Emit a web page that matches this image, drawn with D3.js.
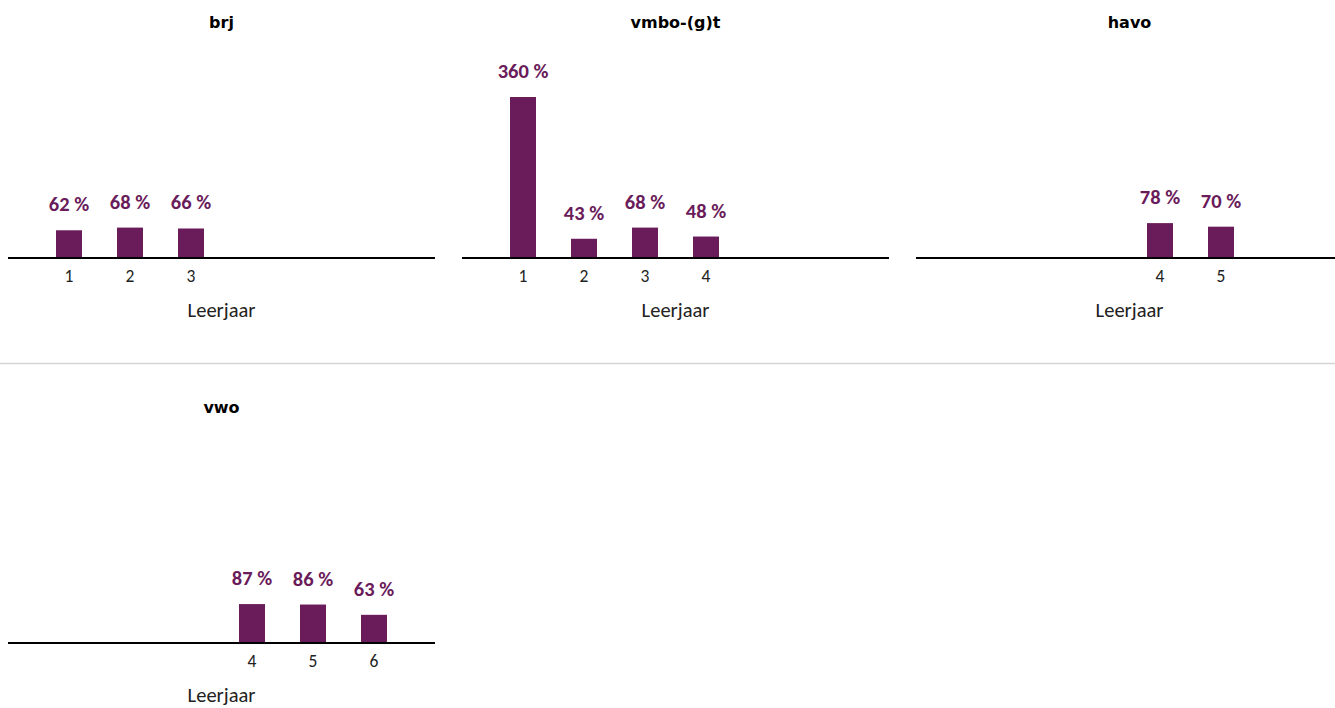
<!DOCTYPE html>
<html>
<head>
<meta charset="utf-8">
<script src="https://cdn.jsdelivr.net/npm/d3@7"></script>
<style>
  html, body { margin: 0; padding: 0; background: #fff; }
  svg text { font-family: Carlito, Lato, "Open Sans", sans-serif; }
  .title { font-family: "DejaVu Sans", sans-serif !important; font-weight: bold; font-size: 16px; fill: #000; }
  .val { font-weight: bold; font-size: 20.5px; fill: #6a1b5a; }
  .tick { font-size: 17.5px; fill: #222; }
  .xlabel { font-size: 20.5px; fill: #222; }
</style>
</head>
<body>
<svg id="chart" width="1335" height="708"></svg>
<script>
// Small multiples per schooltype, percentages per leerjaar.
const PANELS = ["brj", "vmbo-(g)t", "havo", "vwo"];
const YEARS = [[1, 2, 3], [1, 2, 3, 4], [4, 5], [4, 5, 6]];
const VALUES = [[62, 68, 66], [360, 43, 68, 48], [78, 70], [87, 86, 63]];
const DOMAIN = [1, 2, 3, 4, 5, 6];

const svg = d3.select("#chart");
const W = 427, colX = [8, 462, 916], rowBase = [258, 643], barW = 26;

const x = d3.scalePoint().domain(DOMAIN).range([0, W]).padding(1);
const y = d3.scaleLinear().domain([0, 360]).range([0, -161]);

// separator between rows
svg.append("line").attr("x1", 0).attr("x2", 1335).attr("y1", 363.5).attr("y2", 363.5)
  .attr("stroke", "#d4d4d4").attr("stroke-width", 1.5);

PANELS.forEach((name, i) => {
  const col = i % 3, row = Math.floor(i / 3);
  const g = svg.append("g").attr("transform", `translate(${colX[col]},${rowBase[row]})`);
  const data = YEARS[i].map((yr, j) => ({ yr, v: VALUES[i][j] }));

  g.append("text").attr("class", "title").attr("x", W / 2).attr("y", -230)
    .attr("text-anchor", "middle").text(name);

  g.selectAll("rect").data(data).join("rect")
    .attr("x", d => x(d.yr) - barW / 2).attr("width", barW)
    .attr("y", d => y(d.v)).attr("height", d => -y(d.v))
    .attr("fill", "#6a1b5a");

  g.selectAll(".val").data(data).join("text").attr("class", "val")
    .attr("x", d => x(d.yr)).attr("y", d => y(d.v) - 19)
    .attr("text-anchor", "middle").text(d => `${d.v} %`);

  g.append("line").attr("x1", 0).attr("x2", col === 2 ? 1335 - colX[col] : W)
    .attr("y1", 0).attr("y2", 0).attr("stroke", "#000").attr("stroke-width", 2);

  g.selectAll(".tick").data(data).join("text").attr("class", "tick")
    .attr("x", d => x(d.yr)).attr("y", 24)
    .attr("text-anchor", "middle").text(d => d.yr);

  g.append("text").attr("class", "xlabel").attr("x", W / 2).attr("y", 59)
    .attr("text-anchor", "middle").text("Leerjaar");
});
</script>
</body>
</html>
